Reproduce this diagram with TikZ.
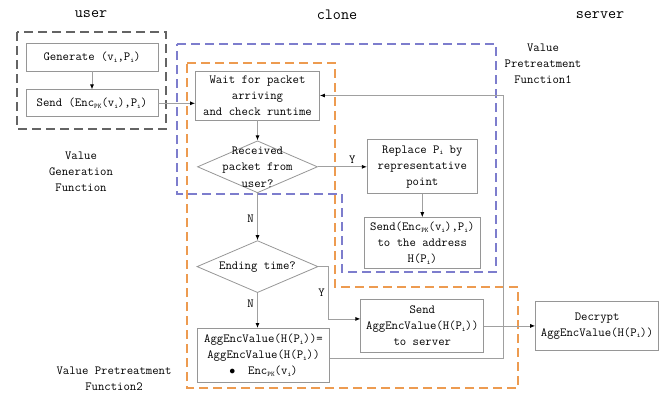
\documentclass[tikz,border=0pt]{standalone}
\usetikzlibrary{arrows.meta, positioning, shapes.geometric, calc}
\definecolor{boxgray}{RGB}{150,150,150}
\definecolor{linegray}{RGB}{160,160,160}
\definecolor{userdash}{RGB}{100,100,100}
\definecolor{funcblue}{RGB}{125,125,205}
\definecolor{funcorange}{RGB}{237,155,80}
\newcommand{\idx}[1]{\raisebox{-0.3ex}{\fontsize{7}{7}\selectfont #1}}
\newcommand{\flowfont}{\ttfamily\fontsize{12.4}{16}\selectfont}
\tikzset{
  block/.style={rectangle, draw=boxgray, line width=0.8pt, align=center,
                inner sep=1pt, font=\flowfont},
  decision/.style={diamond, draw=boxgray, line width=0.8pt, inner sep=0pt,
                   minimum width=120pt, minimum height=52pt},
  dectext/.style={align=center, inner sep=0pt,
                  font=\ttfamily\fontsize{12.4}{16.5}\selectfont},
  headtext/.style={font=\ttfamily\fontsize{15.7}{18}\selectfont},
  fnlabel/.style={align=center, font=\flowfont},
  groupbox/.style={dash pattern=on 9pt off 5pt, line width=1.1pt},
  arr/.style={-{Latex[length=5pt,width=4pt,color=black]}, draw=linegray,
              line width=0.8pt},
}

\begin{document}
\begin{tikzpicture}[x=1pt, y=-1pt, every node/.style={font=\flowfont}]
  \useasboundingbox (0,0) rectangle (671,397);

  % column titles
  \node[headtext] (tuser)   at (91,14)  {user};
  \node[headtext] (tclone)  at (337,15) {clone};
  \node[headtext] (tserver) at (600,15) {server};

  % user side
  \node[block, minimum width=132pt, minimum height=28pt] (gen) at (92,57)
       {Generate (v\idx{i},P\idx{i})};
  \node[block, minimum width=132pt, minimum height=27pt, below=18pt of gen] (usend)
       {Send (Enc\idx{PK}(v\idx{i}),P\idx{i})};

  % clone side
  \node[block, minimum width=124pt, minimum height=49pt] (wait) at (257.5,95.5)
       {Wait for packet\\arriving\\and check runtime};
  \node[decision, below=20pt of wait,
        label={[dectext]center:{Received\\packet from\\user?}}] (recv) {};
  \node[block, minimum width=110pt, minimum height=54pt, right=49pt of recv] (repl)
       {Replace P\idx{i} by\\representative\\point};
  \node[block, minimum width=116pt, minimum height=51pt, below=23pt of repl] (penc)
       {Send(Enc\idx{PK}(v\idx{i}),P\idx{i})\\to the address\\H(P\idx{i})};
  \node[decision, minimum width=121pt, below=47pt of recv,
        label={[dectext]center:{Ending time?}}] (endt) {};
  \node[block, minimum width=132pt, minimum height=54pt, below=35pt of endt,
        xshift=6pt] (agg)
       {AggEncValue(H(P\idx{i}))=\\AggEncValue(H(P\idx{i}))\\$\bullet$\ \ Enc\idx{PK}(v\idx{i})};
  \node[block, minimum width=123pt, minimum height=53pt, below=30pt of penc] (ssend)
       {Send\\AggEncValue(H(P\idx{i}))\\to server};

  % server side
  \node[block, minimum width=123pt, minimum height=49pt, right=51pt of ssend] (decr)
       {Decrypt\\AggEncValue(H(P\idx{i}))};

  % function labels
  \node[fnlabel] (vgf)  at (81,172)  {Value\\Generation\\Function};
  \node[fnlabel] (vpf1) at (543,64)  {Value\\Pretreatment\\Function1};
  \node[fnlabel] (vpf2) at (114,379) {Value Pretreatment\\Function2};

  % function groups
  \draw[groupbox, draw=userdash] (17,32) rectangle (166,129);
  \draw[groupbox, draw=funcblue] (177,44) -- (496,44) -- (496,272) -- (342,272)
       -- (342,194) -- (177,194) -- cycle;
  \draw[groupbox, draw=funcorange] (187,63) -- (335,63) -- (335,287) -- (518,287)
       -- (518,388) -- (187,388) -- cycle;

  % connectors
  \coordinate (ybend) at ($(ssend.west)+(0,-7)$);
  \coordinate (loopB) at (503,358);
  \draw[arr] (gen)   -- (usend);
  \draw[arr] (usend.east) -- (usend.east -| wait.west);
  \draw[arr] (wait)  -- (recv);
  \draw[arr] (recv)  -- node[above, pos=0.7]{Y} (repl);
  \draw[arr] (repl)  -- (penc);
  \draw[arr] (recv)  -- node[left, pos=0.55]{N} (endt);
  \draw[arr] (endt.south) -- node[left, pos=0.3]{N} (endt.south |- agg.north);
  \draw[arr] (endt.east) -- ++(10,0) |- node[left, pos=0.25]{Y} (ybend);
  \draw[arr] (ssend) -- (decr);
  \draw[arr] (agg.east |- loopB) -- (loopB) |- (wait.east);
\end{tikzpicture}
\end{document}
